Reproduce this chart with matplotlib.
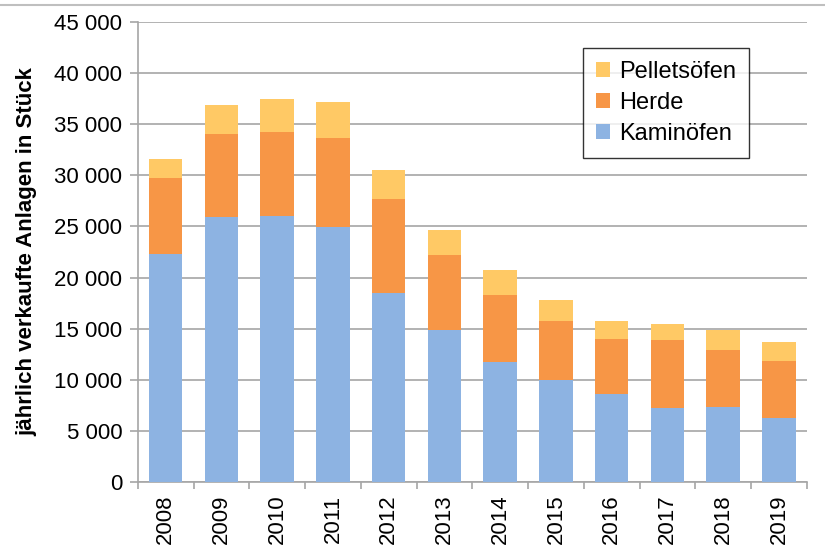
import matplotlib
matplotlib.use("Agg")
import matplotlib.pyplot as plt
import numpy as np
from matplotlib.lines import Line2D

years = ["2008", "2009", "2010", "2011", "2012", "2013", "2014", "2015", "2016", "2017", "2018", "2019"]
kaminoefen = [22300, 25900, 26000, 24900, 18500, 14900, 11700, 10000, 8600, 7200, 7300, 6300]
herde = [7400, 8100, 8200, 8800, 9200, 7300, 6600, 5800, 5400, 6700, 5600, 5500]
pelletoefen = [1900, 2900, 3300, 3500, 2800, 2500, 2400, 2000, 1800, 1600, 2000, 1900]
yticks = [0, 5000, 10000, 15000, 20000, 25000, 30000, 35000, 40000, 45000]
ytick_labels = ["0", "5 000", "10 000", "15 000", "20 000", "25 000", "30 000", "35 000", "40 000", "45 000"]

plt.rcParams['font.family'] = ['Liberation Sans', 'DejaVu Sans']

fig = plt.figure(figsize=(8.25, 5.5), dpi=100)
ax = fig.add_axes([0.167, 0.1236, 0.811, 0.8364])

x = np.arange(len(years))
c_k, c_h, c_p = "#8DB3E2", "#F79646", "#FFC965"
w = 0.6
k = np.array(kaminoefen); h = np.array(herde); p = np.array(pelletoefen)
bk = ax.bar(x, k, w, color=c_k, label="Kaminöfen", zorder=3)
bh = ax.bar(x, h, w, bottom=k, color=c_h, label="Herde", zorder=3)
bp = ax.bar(x, p, w, bottom=k + h, color=c_p, label="Pelletsöfen", zorder=3)

ax.set_xlim(-0.5, len(years) - 0.5)
ax.set_ylim(0, 45000)
ax.set_yticks(yticks)
ax.set_yticklabels(ytick_labels, fontsize=16)
ax.yaxis.grid(True, color="#A6A6A6", linewidth=1.2, zorder=0)
ax.set_axisbelow(True)

ax.set_xticks(x)
ax.set_xticklabels(years, rotation=90, fontsize=16)
ax.tick_params(axis="x", length=0, pad=9)
ax.set_xticks(np.arange(-0.5, len(years)), minor=True)
ax.tick_params(axis="x", which="minor", length=5, color="#A6A6A6", width=1.2)
ax.tick_params(axis="y", length=6, color="#A6A6A6", width=1.2, pad=5)

for s in ["top", "right"]:
    ax.spines[s].set_visible(False)
for s in ["left", "bottom"]:
    ax.spines[s].set_color("#A6A6A6")
    ax.spines[s].set_linewidth(1.2)

ax.set_ylabel("jährlich verkaufte Anlagen in Stück", fontsize=16, fontweight="bold", labelpad=12)

leg = ax.legend(handles=[bp, bh, bk], loc="upper right", bbox_to_anchor=(0.913, 0.943),
                fontsize=17, frameon=True, fancybox=False, edgecolor="black",
                handlelength=0.6, handleheight=0.6, handletextpad=0.35,
                labelspacing=0.38, borderpad=0.55, borderaxespad=0)
leg.get_frame().set_linewidth(1.0)

fig.add_artist(Line2D([0, 1], [1 - 4.5 / 550, 1 - 4.5 / 550], color="#BFBFBF", linewidth=1.5, transform=fig.transFigure))

fig.savefig("out.png", dpi=100)
